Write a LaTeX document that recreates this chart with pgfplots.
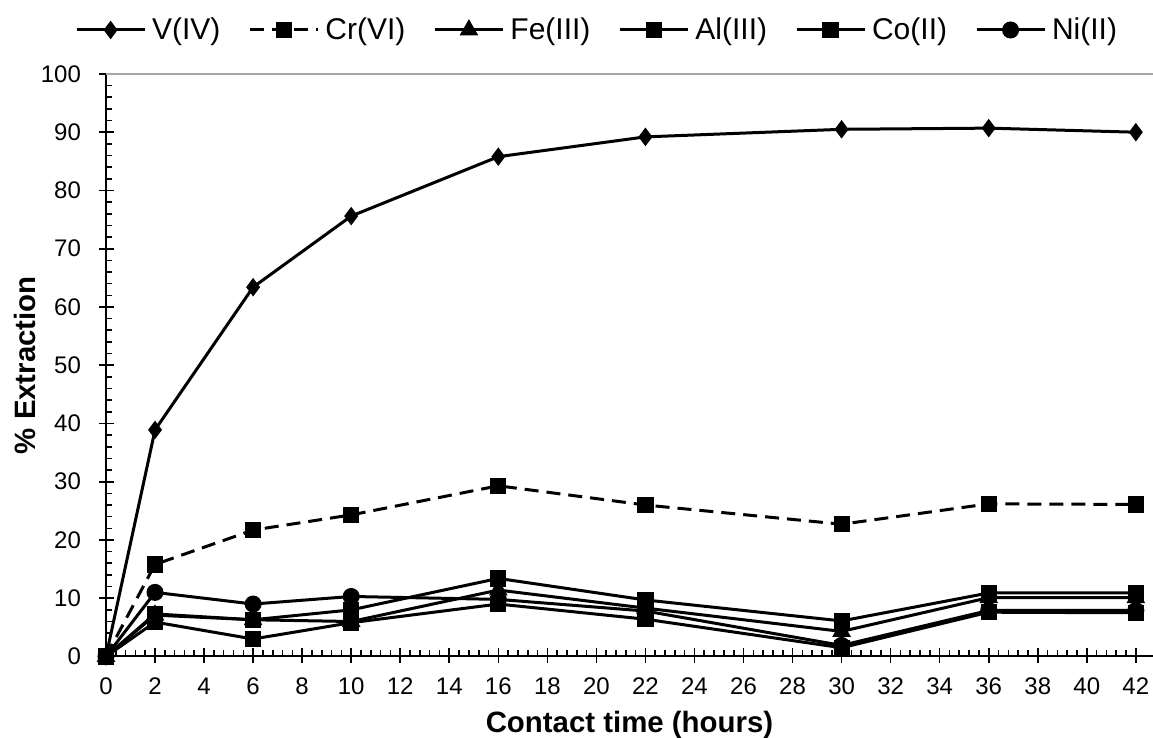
\documentclass[border=0pt]{standalone}
\usepackage{fontspec}
\setmainfont{Liberation Sans}
\usepackage{pgfplots}
\pgfplotsset{compat=1.18}
\begin{document}
\begin{tikzpicture}
\begin{axis}[
  scale only axis,
  width=523.5pt, height=291.25pt,
  xmin=0, xmax=42.7, ymin=0, ymax=100,
  axis x line*=bottom, axis y line*=left,
  axis line style={line width=1pt, -},
  clip=false,
  xtick={0,2,...,42}, ytick={0,10,...,100},
  minor x tick num=4, minor y tick num=4,
  tick align=inside,
  major tick length=7.5pt, minor tick length=3pt,
  major x tick style={yshift=-3.5pt},
  major y tick style={xshift=-3.5pt},
  tick style={black, line width=0.8pt},
  /pgf/number format/assume math mode=true,
  tick label style={font=\fontsize{12}{14}\selectfont},
  xticklabel style={yshift=-7pt},
  yticklabel style={xshift=-9pt},
  xlabel={\textbf{Contact time (hours)}},
  ylabel={\textbf{\% Extraction}},
  label style={font=\fontsize{14.7}{16}\selectfont},
  xlabel style={at={(axis description cs:0.5,-0.117)}, anchor=center},
  ylabel style={at={(axis description cs:-0.0774,0.5)}, anchor=center},
  legend columns=6,
  legend style={draw=none, fill=none, at={(rel axis cs:0.47,1.0755)}, anchor=center,
    font=\fontsize{15}{17}\selectfont,
    /tikz/every odd column/.append style={column sep=1pt},
    /tikz/every even column/.append style={column sep=12pt}},
  legend image code/.code={%
    \draw[mark repeat=2, mark phase=2, #1] plot coordinates {(0pt,0pt) (17pt,0pt) (34pt,0pt)};},
  every axis plot/.append style={line width=1.5pt, black},
]
% vanadium
\addplot[mark=diamond*, mark size=3.4pt, mark options={solid}] coordinates {
 (0,0) (2,38.9) (6,63.4) (10,75.6) (16,85.8) (22,89.2) (30,90.5) (36,90.7) (42,90.0)};
\addlegendentry{V(IV)}
% chromium
\addplot[mark=square*, mark size=3.3pt, dash pattern=on 7pt off 4pt, mark options={solid}] coordinates {
 (0,0) (2,15.8) (6,21.7) (10,24.3) (16,29.3) (22,26.0) (30,22.7) (36,26.2) (42,26.1)};
\addlegendentry{Cr(VI)}
% iron
\addplot[mark=triangle*, mark size=3.9pt, mark options={solid}] coordinates {
 (0,0) (2,7.1) (6,6.3) (10,6.0) (16,11.4) (22,8.3) (30,4.3) (36,10.1) (42,10.1)};
\addlegendentry{Fe(III)}
% aluminium
\addplot[mark=square*, mark size=3.3pt, mark options={solid}] coordinates {
 (0,0) (2,7.3) (6,6.3) (10,8.0) (16,13.4) (22,9.7) (30,6.1) (36,10.9) (42,10.9)};
\addlegendentry{Al(III)}
% cobalt
\addplot[mark=square*, mark size=3.3pt, mark options={solid}] coordinates {
 (0,0) (2,5.9) (6,3.0) (10,5.8) (16,9.0) (22,6.4) (30,1.5) (36,7.6) (42,7.5)};
\addlegendentry{Co(II)}
% nickel
\addplot[mark=*, mark size=3.5pt, mark options={solid}] coordinates {
 (0,0) (2,11.0) (6,9.0) (10,10.3) (16,9.8) (22,7.8) (30,1.9) (36,7.9) (42,7.9)};
\addlegendentry{Ni(II)}
\draw[gray!70, line width=0.6pt] (rel axis cs:0,1) -- (rel axis cs:1,1);
\coordinate (bbl) at (rel axis cs:-0.10124,-0.1399);
\coordinate (btr) at (rel axis cs:1,1.127);
\end{axis}
\pgfresetboundingbox
\path (bbl) rectangle (btr);
\end{tikzpicture}
\end{document}
